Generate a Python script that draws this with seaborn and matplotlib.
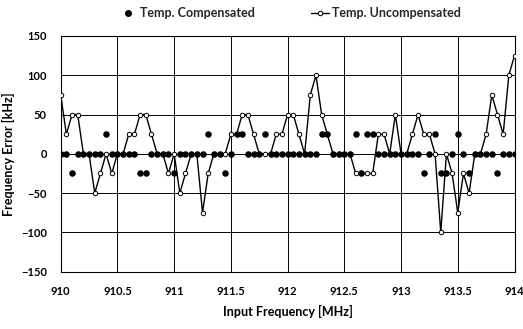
import numpy as np
import pandas as pd
import matplotlib
matplotlib.use("Agg")
import matplotlib.pyplot as plt
import seaborn as sns
from matplotlib.lines import Line2D

freq = [910.0 + 0.05 * i for i in range(81)]

uncompensated = [
    75, 25, 50, 50, 0, 0, -50, -25, 0, -25,          # 910.00-910.45
    0, 0, 25, 25, 50, 50, 25, 0, 0, -25,             # 910.50-910.95
    0, -50, -25, 0, 0, -75, -25, 0, 0, 0,            # 911.00-911.45
    25, 25, 50, 50, 25, 0, 0, 0, 25, 25,             # 911.50-911.95
    50, 50, 25, 0, 75, 100, 50, 25, 0, 0,            # 912.00-912.45
    0, 0, -25, -25, -25, -25, 25, 25, 0, 50,         # 912.50-912.95
    0, 0, 25, 50, 25, 25, 0, -100, 0, -25,           # 913.00-913.45
    -75, -25, -50, 0, 0, 25, 75, 50, 25, 100,        # 913.50-913.95
    125,                                             # 914.00
]

compensated = [
    0, 0, -25, 0, 0, 0, 0, 0, 25, 0,                 # 910.00-910.45
    0, 0, 0, 0, -25, -25, 0, 0, 0, 0,                # 910.50-910.95
    -25, 0, 0, 0, 0, 0, 25, 0, 0, -25,               # 911.00-911.45
    0, 25, 25, 0, 0, 0, 25, 0, 0, 0,                 # 911.50-911.95
    0, 0, 0, 0, 0, 0, 25, 25, 0, 0,                  # 912.00-912.45
    0, 0, 25, -25, 25, 25, 0, 0, 0, 0,               # 912.50-912.95
    0, 0, 0, 0, -25, 0, 25, -25, -25, 0,             # 913.00-913.45
    25, 0, -25, 0, 0, 0, 0, -25, 0, 0,               # 913.50-913.95
    0,                                               # 914.00
]

x_ticks = [910, 910.5, 911, 911.5, 912, 912.5, 913, 913.5, 914]
x_tick_labels = ["910", "910.5", "911", "911.5", "912", "912.5", "913", "913.5", "914"]
y_ticks = [-150, -100, -50, 0, 50, 100, 150]

df = pd.DataFrame({"freq": freq, "comp": compensated, "uncomp": uncompensated})

sns.set_theme(style="white")
plt.rcParams["font.family"] = ["Lato", "DejaVu Sans"]

fig = plt.figure(figsize=(5.23, 3.29), dpi=100)
ax = fig.add_axes([60.7 / 523, 1 - 271.7 / 329, (514.5 - 60.7) / 523, (271.7 - 36) / 329])

sns.lineplot(data=df, x="freq", y="uncomp", ax=ax, color="black", linewidth=1.0,
             marker="o", markersize=3.2, markerfacecolor="white",
             markeredgecolor="black", markeredgewidth=0.7, zorder=3)
sns.scatterplot(data=df, x="freq", y="comp", ax=ax, color="black", s=22,
                edgecolor="black", linewidth=0, zorder=4)

ax.set_xlim(910, 914)
ax.set_ylim(-150, 150)
ax.set_xticks(x_ticks)
ax.set_xticklabels(x_tick_labels)
ax.set_yticks(y_ticks)
ax.grid(True, color="black", linewidth=0.7)
ax.set_axisbelow(True)
for s in ax.spines.values():
    s.set_color("black")
    s.set_linewidth(0.8)
ax.tick_params(axis="both", length=0, pad=10, labelsize=8, colors="black")
for lbl in ax.get_xticklabels() + ax.get_yticklabels():
    lbl.set_fontweight("bold")

ax.set_xlabel("Input Frequency [MHz]", fontsize=9, fontweight="bold", color="black", labelpad=6)
ax.set_ylabel("Frequency Error [kHz]", fontsize=9, fontweight="bold", color="black", labelpad=4)

handles = [
    Line2D([], [], linestyle="none", marker="o", color="black", markersize=4),
    Line2D([], [], color="black", linewidth=1.0, marker="o", markersize=3.2,
           markerfacecolor="white", markeredgecolor="black", markeredgewidth=0.7),
]
leg = fig.legend(handles, ["Temp. Compensated", "Temp. Uncompensated"],
                 loc="center", bbox_to_anchor=(290 / 523, 1 - 13 / 329), ncol=2,
                 frameon=False, handlelength=1.4, handletextpad=0.3, columnspacing=4.5,
                 prop={"weight": "bold", "size": 9})

fig.savefig("out.png", dpi=100)
